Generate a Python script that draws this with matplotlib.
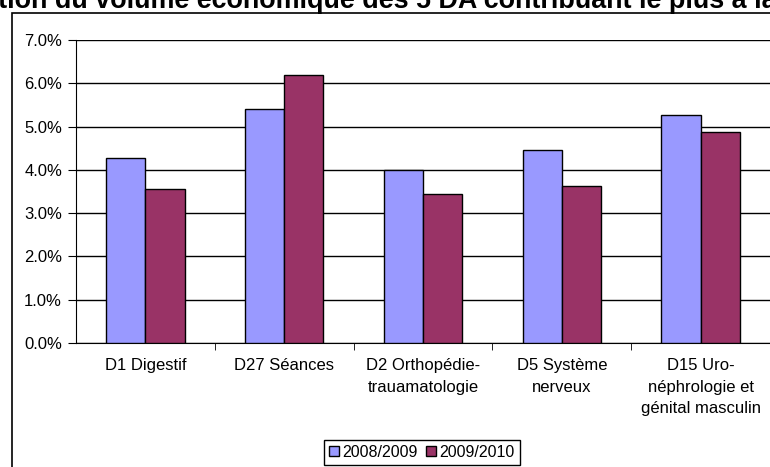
import numpy as np
import matplotlib.pyplot as plt
from matplotlib.patches import Rectangle

plt.rcParams['font.family'] = ['Liberation Sans', 'DejaVu Sans']

# catégories et valeurs (%)
categories = ['D1 Digestif', 'D27 Séances', 'D2 Orthopédie-\ntrauamatologie',
              'D5 Système\nnerveux', 'D15 Uro-\nnéphrologie et\ngénital masculin']
v_2008 = [4.28, 5.41, 4.00, 4.46, 5.27]
v_2009 = [3.55, 6.18, 3.45, 3.63, 4.87]
series = ['2008/2009', '2009/2010']
title = 'Evolution du volume économique des 5 DA contribuant le plus à la croissance'

fig = plt.figure(figsize=(7.7, 4.67), dpi=100)
ax = fig.add_axes([76/770, 1-343/467, 1-76/770, (343-40)/467])

x = np.arange(len(categories))
w = 0.283
b1 = ax.bar(x - w/2, v_2008, w, color='#9999FF', edgecolor='black', linewidth=1, label=series[0], zorder=3)
b2 = ax.bar(x + w/2, v_2009, w, color='#993366', edgecolor='black', linewidth=1, label=series[1], zorder=3)

ax.set_xlim(-0.5, len(categories) - 0.5)
ax.set_ylim(0, 7)
ax.set_yticks(np.arange(0, 8, 1))
ax.set_yticklabels(['%.1f%%' % v for v in np.arange(0, 8, 1)], fontsize=12)
ax.yaxis.grid(True, color='black', linewidth=1, zorder=0)
ax.set_xticks(x)
ax.set_xticklabels(categories, fontsize=12, linespacing=1.55, va='top')
ax.tick_params(axis='x', which='major', length=0, pad=11)
ax.set_xticks(np.arange(0.5, len(categories) - 0.5, 1), minor=True)
ax.tick_params(axis='x', which='minor', length=5, direction='out', color='black')
ax.tick_params(axis='y', length=6, direction='out', color='black', pad=4)
for s in ['top', 'right']:
    ax.spines[s].set_visible(False)
ax.spines['left'].set_color('black')
ax.spines['bottom'].set_color('black')

fig.legend(handles=[b1, b2], labels=series, loc='upper center', bbox_to_anchor=(422/770, 1-440/467),
           ncol=2, fontsize=11.5, frameon=True, fancybox=False, edgecolor='black', framealpha=1,
           handlelength=0.6, handleheight=0.6, handletextpad=0.25, columnspacing=0.5,
           borderpad=0.3, borderaxespad=0)

# cadre extérieur
fig.patches.append(Rectangle((11.5/770, -0.2), 1.2, 1.2 - 13/467, transform=fig.transFigure,
                             fill=False, edgecolor='black', linewidth=1.2))

# titre coupé en haut : le "t" de "tion" démarre au bord gauche
fs_title = 19.4
r = fig.canvas.get_renderer()
t1 = fig.text(0, 0, 'Evolution', fontsize=fs_title, fontweight='bold')
t2 = fig.text(0, 0, 'tion', fontsize=fs_title, fontweight='bold')
offset = t1.get_window_extent(r).width - t2.get_window_extent(r).width
t1.remove()
t2.remove()
fig.text((-2 - offset) / 770, 1 - 7.5/467, title, fontsize=fs_title, fontweight='bold', va='baseline', ha='left')

fig.savefig('out.png', dpi=100)
